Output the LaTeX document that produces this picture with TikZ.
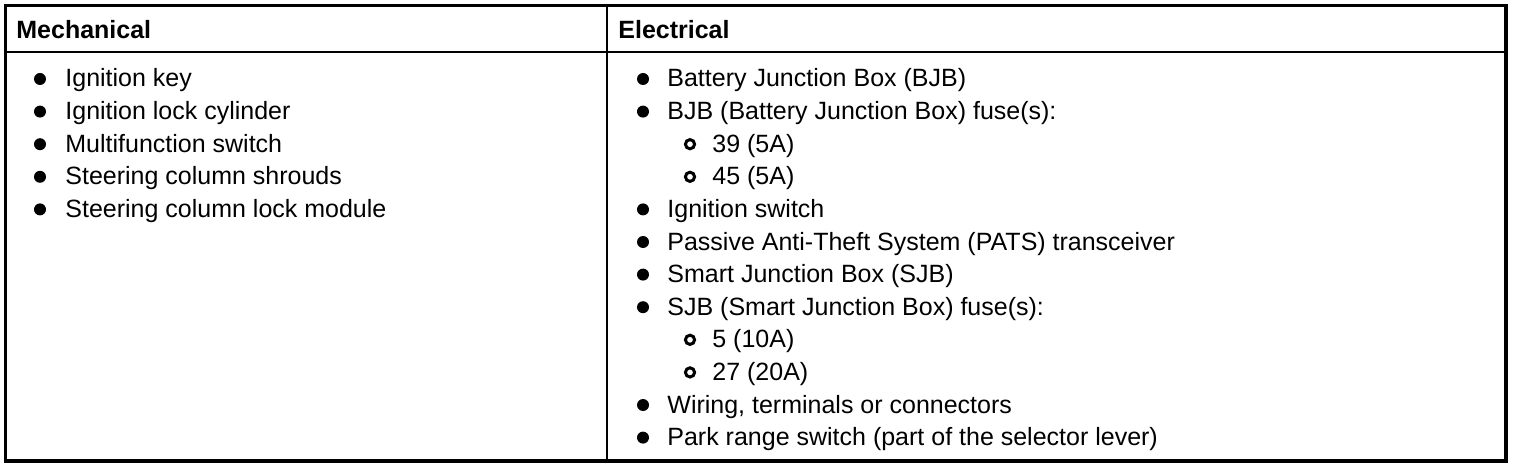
\documentclass[tikz,border=0pt]{standalone}
\usepackage{fontspec}
\setmainfont{Liberation Sans}
\tikzset{l/.style={font=\fontsize{12.5}{12.5}\selectfont, anchor=base west, inner sep=0pt}}
\tikzset{h/.style={font=\fontsize{12.5}{12.5}\selectfont\bfseries, anchor=base west, inner sep=0pt}}
\tikzset{dot/.style={circle, fill=black, minimum size=6pt, inner sep=0pt}}
\tikzset{ring/.style={circle, draw=black, line width=1.5pt, minimum size=4.6pt, inner sep=0pt}}
\begin{document}
\begin{tikzpicture}[x=0.5pt,y=-0.5pt]
  \useasboundingbox (0,0) rectangle (1520,470);
  % table frame
  \draw[line width=1.75pt] (5.5,5.5) rectangle (1506,461);
  \draw[line width=1pt] (5.5,52.5) -- (1506,52.5);
  \draw[line width=1pt] (607,5.5) -- (607,461);
  % headers
  \node[h] (mech) at (16,39) {Mechanical};
  \node[h] (elec) at (618,39) {Electrical};
  % mechanical column
  \node[dot] (m1) at (40,79) {};
  \node[l] (mt1) at (65,87) {Ignition key};
  \node[dot] (m2) at (40,111.6) {};
  \node[l] (mt2) at (65,119.6) {Ignition lock cylinder};
  \node[dot] (m3) at (40,144.2) {};
  \node[l] (mt3) at (65,152.2) {Multifunction switch};
  \node[dot] (m4) at (40,176.8) {};
  \node[l] (mt4) at (65,184.8) {Steering column shrouds};
  \node[dot] (m5) at (40,209.4) {};
  \node[l] (mt5) at (65,217.4) {Steering column lock module};
  % electrical column
  \node[dot] (e1) at (643,79) {};
  \node[l] (et1) at (667,87) {Battery Junction Box (BJB)};
  \node[dot] (e2) at (643,111.6) {};
  \node[l] (et2) at (667,119.6) {BJB (Battery Junction Box) fuse(s):};
  \node[ring] (s1) at (690,144.2) {};
  \node[l] (st1) at (712,152.2) {39 (5A)};
  \node[ring] (s2) at (690,176.8) {};
  \node[l] (st2) at (712,184.8) {45 (5A)};
  \node[dot] (e3) at (643,209.4) {};
  \node[l] (et3) at (667,217.4) {Ignition switch};
  \node[dot] (e4) at (643,242) {};
  \node[l] (et4) at (667,250) {Passive Anti-Theft System (PATS) transceiver};
  \node[dot] (e5) at (643,274.6) {};
  \node[l] (et5) at (667,282.6) {Smart Junction Box (SJB)};
  \node[dot] (e6) at (643,307.2) {};
  \node[l] (et6) at (667,315.2) {SJB (Smart Junction Box) fuse(s):};
  \node[ring] (s3) at (690,339.8) {};
  \node[l] (st3) at (712,347.8) {5 (10A)};
  \node[ring] (s4) at (690,372.4) {};
  \node[l] (st4) at (712,380.4) {27 (20A)};
  \node[dot] (e7) at (643,405) {};
  \node[l] (et7) at (667,413) {Wiring, terminals or connectors};
  \node[dot] (e8) at (643,437.6) {};
  \node[l] (et8) at (667,445.6) {Park range switch (part of the selector lever)};
\end{tikzpicture}
\end{document}
